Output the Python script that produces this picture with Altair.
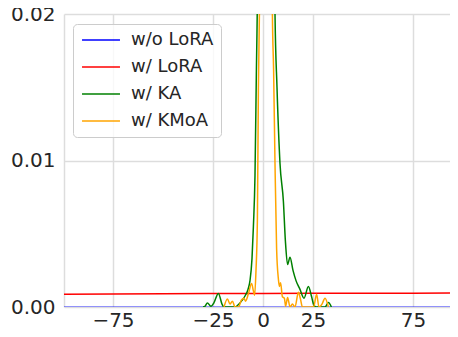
import altair as alt
import pandas as pd

series_names = ["w/o LoRA", "w/ LoRA", "w/ KA", "w/ KMoA"]
series_colors = ["#0000ff", "#ff0000", "#008000", "#ffa500"]

base_x = [-100, -50, 0, 50, 100]
base_y = [0, 0, 0, 0, 0]

lora_x = [-100, -50, 0, 50, 100]
lora_y = [0.00087, 0.0009, 0.00093, 0.00094, 0.00095]

ka_x = [-30, -29, -27.8, -26, -24.5, -22.3, -20.5, -19.5, -14, -12, -10.5, -9, -7.5,
        -6.5, -5.5, -4.8, -4, -3.3, -2.5, -1.5, 0, 1.5, 3, 4.5, 5.5, 6, 7, 8.5, 10.2,
        11.2, 12.3, 13.5, 15, 16.5, 18.5, 20.5, 22.7, 24.3, 25.5, 26.5, 31, 32.7, 34.2]
ka_y = [0, 0.00005, 0.00028, 0.00005, 0.0003, 0.00093, 0.0002, 0, 0, 0.0002, 0.00045,
        0.00075, 0.0012, 0.0018, 0.0033, 0.0055, 0.009, 0.0162, 0.024, 0.045, 0.07,
        0.08, 0.07, 0.045, 0.026, 0.02, 0.015, 0.0098, 0.0072, 0.0045, 0.0029, 0.0034,
        0.0025, 0.0018, 0.0012, 0.0006, 0.0014, 0.0007, 0.0001, 0, 0, 0.0003, 0]

kmoa_x = [-19.5, -17.8, -16.5, -15.3, -14, -12.3, -10.7, -9.5, -8.7, -7.3, -5.7, -4.8,
          -4.2, -3.5, -2.8, -2.3, -1.8, -1, 1.5, 4, 4.7, 5.3, 6, 6.8, 7.7, 8.2, 8.8,
          9.7, 10.7, 11.3, 12.3, 13.5, 14.7, 16, 17.7, 18.8, 19.7, 25.3, 26.8, 28,
          29.5, 31, 32.7]
kmoa_y = [0, 0.00055, 0.0002, 0.0004, 0, 0, 0.0005, 0.0006, 0.0004, 0.0009, 0.0016,
          0.0011, 0.0008, 0.0025, 0.006, 0.015, 0.02, 0.04, 0.09, 0.04, 0.02, 0.0162,
          0.0098, 0.004, 0.0019, 0.0014, 0.00165, 0.0007, 0.0006, 0.00005, 0.00065, 0,
          0.0002, 0, 0.001, 0.0005, 0, 0, 0.00087, 0, 0.0002, 0.0006, 0]

x_ticks = [-75, -25, 0, 25, 75]
y_ticks = [0.0, 0.01, 0.02]

rows = []
for name, xs, ys in [(series_names[0], base_x, base_y), (series_names[1], lora_x, lora_y),
                     (series_names[2], ka_x, ka_y), (series_names[3], kmoa_x, kmoa_y)]:
    for i, (xv, yv) in enumerate(zip(xs, ys)):
        rows.append({"series": name, "x": xv, "y": yv, "i": i})
df = pd.DataFrame(rows)

chart = alt.Chart(df).mark_line(clip=True, strokeWidth=1.5, interpolate="monotone").encode(
    x=alt.X("x:Q", scale=alt.Scale(domain=[-99.5, 93.5], nice=False, zero=False),
            axis=alt.Axis(values=x_ticks, title=None, format="d", labelPadding=3,
                          ticks=False, tickSize=0, domain=False)),
    y=alt.Y("y:Q", scale=alt.Scale(domain=[0, 0.02], nice=False),
            axis=alt.Axis(values=y_ticks, title=None, format=".2f", labelPadding=9,
                          ticks=False, tickSize=0, domain=True,
                          domainColor="#dddddd", domainWidth=1.5)),
    color=alt.Color("series:N", scale=alt.Scale(domain=series_names, range=series_colors),
                    legend=alt.Legend(orient="none", legendX=9, legendY=10, title=None,
                                      symbolType="M-4,0H4", symbolSize=90,
                                      symbolStrokeWidth=1.5, labelFontSize=18,
                                      labelFont="DejaVu Sans", labelColor="#262626",
                                      padding=7, rowPadding=9, strokeColor="#cccccc",
                                      cornerRadius=4, fillColor="rgba(255,255,255,0.8)",
                                      symbolOffset=12, labelOffset=21)),
    strokeOpacity=alt.condition(alt.datum.series == "w/o LoRA", alt.value(0.55), alt.value(1)),
    order="i:Q",
).properties(
    width=386, height=293,
    autosize=alt.AutoSizeParams(type="none"),
    padding={"left": 56, "top": 6, "right": 0, "bottom": 22},
).configure_view(
    stroke=None
).configure_axis(
    labelFont="DejaVu Sans", labelFontSize=20, labelColor="#262626",
    gridColor="#dddddd", gridWidth=1.5
)

chart.save("out.html", embed_options={"renderer": "svg", "actions": False})
